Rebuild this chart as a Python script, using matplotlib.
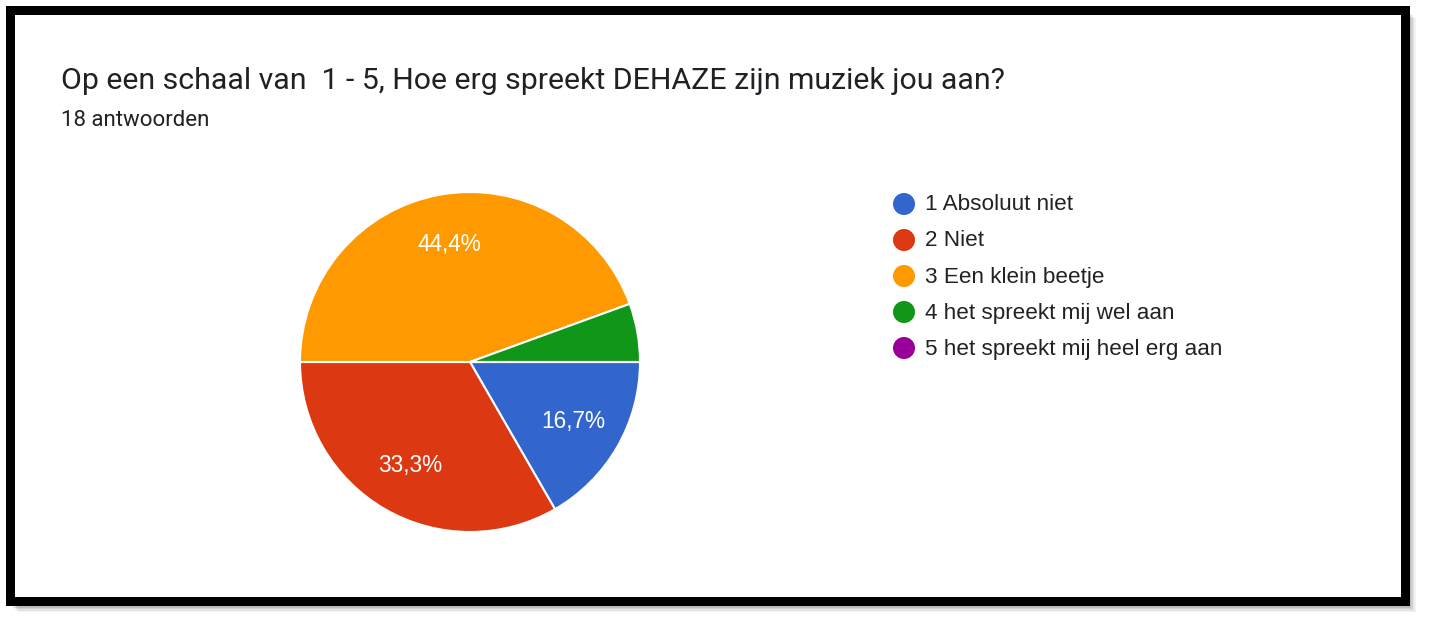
import matplotlib
matplotlib.use("Agg")
import matplotlib.pyplot as plt
from matplotlib.patches import Rectangle, Circle

plt.rcParams['font.family'] = ['Roboto', 'DejaVu Sans']

title = "Op een schaal van  1 - 5, Hoe erg spreekt DEHAZE zijn muziek jou aan?"
subtitle = "18 antwoorden"
labels = ["1 Absoluut niet", "2 Niet", "3 Een klein beetje",
          "4 het spreekt mij wel aan", "5 het spreekt mij heel erg aan"]
counts = [3, 6, 8, 1, 0]
colors = ["#3366CC", "#DC3912", "#FF9900", "#109618", "#990099"]

W, H = 1429, 625
fig = plt.figure(figsize=(W / 100, H / 100), dpi=100)

# background axes in pixel coordinates
bg = fig.add_axes([0, 0, 1, 1])
bg.set_xlim(0, W)
bg.set_ylim(H, 0)
bg.axis('off')

# soft shadow
for i, a in enumerate([0.05, 0.06, 0.08, 0.10, 0.12]):
    off = 12 - i * 1.5
    bg.add_patch(Rectangle((6 + off, 6 + off), 1404 - 6, 600 - 6,
                           facecolor='black', alpha=a, edgecolor='none'))
# black frame + white card
bg.add_patch(Rectangle((6, 6), 1404, 600, facecolor='black', edgecolor='none'))
bg.add_patch(Rectangle((15, 15), 1386, 582, facecolor='white', edgecolor='none'))

bg.text(61, 81, title, fontsize=21.8, color='#202124', va='center', ha='left')
bg.text(61, 121, subtitle, fontsize=16, color='#202124', va='center', ha='left')

# legend
arial = ['Liberation Sans', 'DejaVu Sans']
for i, (lab, col) in enumerate(zip(labels, colors)):
    y = 204 + i * 36
    bg.add_patch(Circle((904, y), 11, facecolor=col, edgecolor='none'))
    bg.text(925, y + 1, lab, fontsize=16.2, color='#222222', va='center',
            ha='left', family=arial)

# pie
cx, cy, r = 470, 362, 170
ax = fig.add_axes([(cx - r) / W, (H - cy - r) / H, 2 * r / W, 2 * r / H])


def fmt(p):
    if p < 10:
        return ''
    return f"{p:.1f}%".replace('.', ',')


wedges, texts, autotexts = ax.pie(
    counts, colors=colors, startangle=0, counterclock=False,
    autopct=fmt, pctdistance=0.70,
    wedgeprops=dict(edgecolor='white', linewidth=1.5),
    textprops=dict(color='white', fontsize=16.3, family=arial))
ax.set_xlim(-1, 1)
ax.set_ylim(-1, 1)
ax.set_aspect('equal')

fig.savefig("out.png", dpi=100)
